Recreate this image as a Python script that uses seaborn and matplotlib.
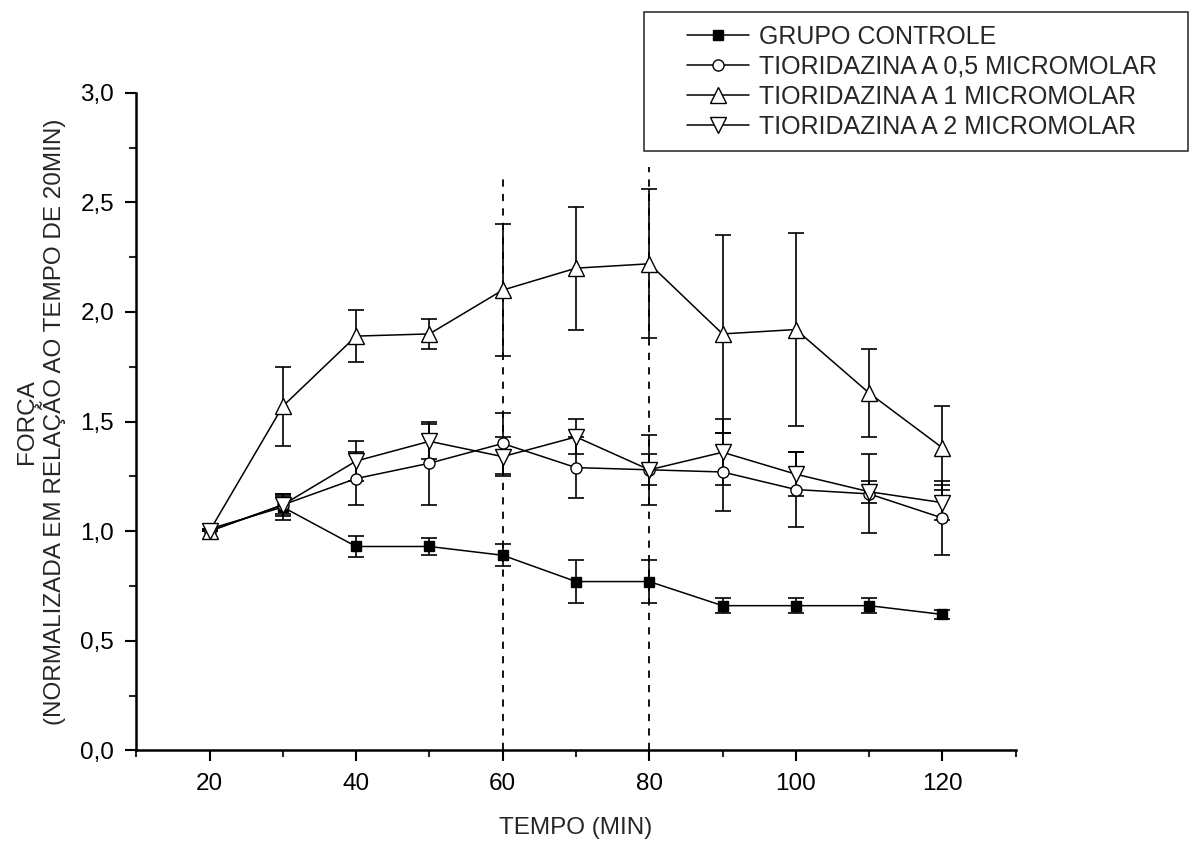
import matplotlib
matplotlib.use("Agg")
import matplotlib.pyplot as plt
import seaborn as sns
import pandas as pd
from matplotlib.ticker import MultipleLocator, FuncFormatter
from matplotlib.legend_handler import HandlerLine2D

tempo = [20, 30, 40, 50, 60, 70, 80, 90, 100, 110, 120]

controle = [1.01, 1.11, 0.93, 0.93, 0.89, 0.77, 0.77, 0.66, 0.66, 0.66, 0.62]
controle_err = [0.0, 0.06, 0.05, 0.04, 0.05, 0.10, 0.10, 0.035, 0.035, 0.035, 0.02]

tio05 = [1.0, 1.12, 1.24, 1.31, 1.40, 1.29, 1.28, 1.27, 1.19, 1.17, 1.06]
tio05_err = [0.0, 0.04, 0.12, 0.19, 0.14, 0.14, 0.16, 0.18, 0.17, 0.18, 0.17]

tio1 = [1.0, 1.57, 1.89, 1.90, 2.10, 2.20, 2.22, 1.90, 1.92, 1.63, 1.38]
tio1_err = [0.0, 0.18, 0.12, 0.07, 0.30, 0.28, 0.34, 0.45, 0.44, 0.20, 0.19]

tio2 = [1.0, 1.12, 1.32, 1.41, 1.34, 1.43, 1.28, 1.36, 1.26, 1.18, 1.13]
tio2_err = [0.0, 0.05, 0.09, 0.08, 0.09, 0.08, 0.07, 0.15, 0.10, 0.05, 0.08]

labels = ["GRUPO CONTROLE", "TIORIDAZINA A 0,5 MICROMOLAR",
          "TIORIDAZINA A 1 MICROMOLAR", "TIORIDAZINA A 2 MICROMOLAR"]
vlines_x = [60, 80]
vlines_top = [2.63, 2.66]

sns.set_style("ticks")
plt.rcParams['font.family'] = ['Liberation Sans', 'DejaVu Sans']

W, H = 1195, 844
fig = plt.figure(figsize=(W / 100, H / 100), dpi=100)
ax = fig.add_axes([0.114, 0.111, 0.736, 0.779])

series = [
    (controle, controle_err, "s", "black", 7),
    (tio05, tio05_err, "o", "white", 8),
    (tio1, tio1_err, "^", "white", 11),
    (tio2, tio2_err, "v", "white", 11),
]

for (vals, errs, mk, fc, ms), lab in zip(series, labels):
    df = pd.DataFrame({"tempo": tempo, "valor": vals})
    ax.errorbar(tempo, vals, yerr=errs, fmt="none", ecolor="black",
                elinewidth=1.2, capsize=6, capthick=1.2, zorder=2)
    sns.lineplot(data=df, x="tempo", y="valor", ax=ax, color="black",
                 linewidth=1.1, marker=mk, markersize=ms,
                 markerfacecolor=fc, markeredgecolor="black",
                 markeredgewidth=1.0, label=lab, zorder=3)

for xv, top in zip(vlines_x, vlines_top):
    ax.vlines(xv, 0, top, colors="black", linestyles=(0, (4, 4)),
              linewidth=1.3, zorder=1)

ax.set_xlim(10, 130)
ax.set_ylim(0, 3.0)
ax.xaxis.set_major_locator(MultipleLocator(20))
ax.xaxis.set_minor_locator(MultipleLocator(10))
ax.yaxis.set_major_locator(MultipleLocator(0.5))
ax.yaxis.set_minor_locator(MultipleLocator(0.25))
ax.yaxis.set_major_formatter(FuncFormatter(lambda v, p: f"{v:.1f}".replace(".", ",")))
ax.xaxis.set_major_formatter(FuncFormatter(lambda v, p: "" if v < 15 else f"{int(v)}"))

ax.tick_params(axis="both", which="major", direction="out", length=8,
               width=1.5, labelsize=17.5, colors="black", pad=8)
ax.tick_params(axis="both", which="minor", direction="out", length=5,
               width=1.5)
sns.despine(ax=ax)
for s in ["left", "bottom"]:
    ax.spines[s].set_linewidth(1.8)
    ax.spines[s].set_color("black")

ax.set_xlabel("TEMPO (MIN)", fontsize=17.5, labelpad=16)
ax.set_ylabel("FORÇA\n(NORMALIZADA EM RELAÇÃO AO TEMPO DE 20MIN)",
              fontsize=17.5, labelpad=10, linespacing=1.1)

handles, labs = ax.get_legend_handles_labels()
hmap = {h: HandlerLine2D(xpad=1.2) for h in handles}
bx0, bx1, by0, by1 = 644, 1188, 12, 146
leg = ax.legend(handles, labs, loc="upper left",
                bbox_to_anchor=(bx0 / W, 1 - by1 / H, (bx1 - bx0) / W, (by1 - by0) / H),
                bbox_transform=fig.transFigure, mode="expand", frameon=True,
                fancybox=False, fontsize=18, handlelength=3.7,
                borderpad=0.5, labelspacing=0.24, handletextpad=0.4,
                borderaxespad=0, markerscale=1.0, handler_map=hmap)
leg.get_frame().set_edgecolor("black")
leg.get_frame().set_linewidth(1.2)

fig.savefig("out.png", dpi=100)
